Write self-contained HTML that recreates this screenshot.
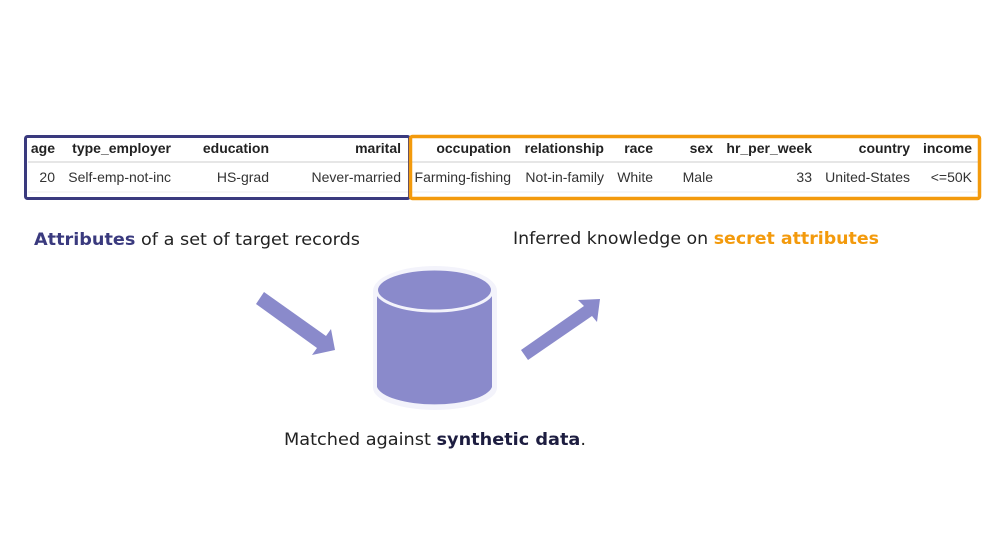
<!DOCTYPE html>
<html><head><meta charset="utf-8"><style>
html,body{margin:0;padding:0;background:#fff;}
svg{display:block;font-family:"Liberation Sans",sans-serif;}
</style></head><body>
<svg width="1006" height="548" viewBox="0 0 1006 548" xmlns="http://www.w3.org/2000/svg">
<rect width="1006" height="548" fill="#fff"/>
<line x1="28" y1="162" x2="978" y2="162" stroke="#ddd" stroke-width="1.5"/>
<line x1="28" y1="192" x2="978" y2="192" stroke="#eee" stroke-width="1"/>
<g font-size="14" fill="#222" font-weight="bold">
<text x="55" y="153" text-anchor="end">age</text>
<text x="171" y="153" text-anchor="end">type_employer</text>
<text x="269" y="153" text-anchor="end">education</text>
<text x="401" y="153" text-anchor="end">marital</text>
<text x="511" y="153" text-anchor="end">occupation</text>
<text x="604" y="153" text-anchor="end">relationship</text>
<text x="653" y="153" text-anchor="end">race</text>
<text x="713" y="153" text-anchor="end">sex</text>
<text x="812" y="153" text-anchor="end">hr_per_week</text>
<text x="910" y="153" text-anchor="end">country</text>
<text x="972" y="153" text-anchor="end">income</text>
</g>
<g font-size="14" fill="#333">
<text x="55" y="182" text-anchor="end">20</text>
<text x="171" y="182" text-anchor="end">Self-emp-not-inc</text>
<text x="269" y="182" text-anchor="end">HS-grad</text>
<text x="401" y="182" text-anchor="end">Never-married</text>
<text x="511" y="182" text-anchor="end">Farming-fishing</text>
<text x="604" y="182" text-anchor="end">Not-in-family</text>
<text x="653" y="182" text-anchor="end">White</text>
<text x="713" y="182" text-anchor="end">Male</text>
<text x="812" y="182" text-anchor="end">33</text>
<text x="910" y="182" text-anchor="end">United-States</text>
<text x="972" y="182" text-anchor="end">&lt;=50K</text>
</g>
<rect x="25.5" y="136.5" width="384" height="62" rx="2" fill="none" stroke="#3a3a7e" stroke-width="3"/>
<rect x="410.5" y="136.5" width="569" height="62" rx="2" fill="none" stroke="#f39a0c" stroke-width="3.5"/>
<g font-family="'DejaVu Sans',sans-serif" font-size="17" fill="#222">
<text x="34" y="245" textLength="326" lengthAdjust="spacingAndGlyphs"><tspan fill="#3a3a7e" font-weight="bold">Attributes</tspan> of a set of target records</text>
<text x="513" y="244" textLength="366" lengthAdjust="spacingAndGlyphs">Inferred knowledge on <tspan fill="#f39a0c" font-weight="bold">secret attributes</tspan></text>
<text x="284" y="445" textLength="302" lengthAdjust="spacingAndGlyphs">Matched against <tspan fill="#1d1d40" font-weight="bold">synthetic data</tspan>.</text>
</g>
<path d="M373 291 L373 388 A62 22 0 0 0 497 388 L497 291 A62 25 0 0 0 373 291 Z" fill="#f3f3fb"/>
<path d="M377 293 L377 387 A58 20 0 0 0 492 387 L492 293 Z" fill="#8a8acb"/>
<ellipse cx="434.5" cy="290" rx="58" ry="21" fill="#8a8acb" stroke="#f3f3fb" stroke-width="3"/>
<g fill="#8a8acb">
<polygon points="256,304 264,292 326,336 331,329 335,350 312,355 317,348"/>
<polygon points="521,350 528,360 592,316 597,322 600,299 578,300 584,306"/>
</g>
</svg>
</body></html>
